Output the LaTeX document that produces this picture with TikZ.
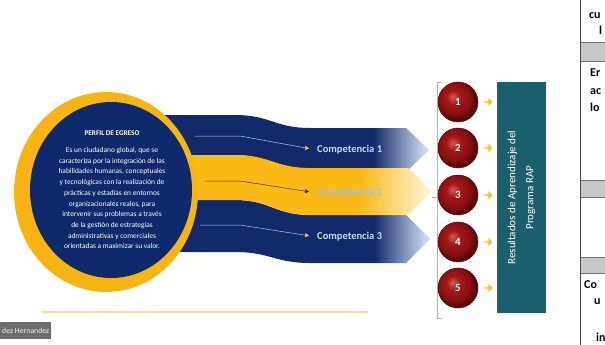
\documentclass[tikz,border=0pt]{standalone}
\usepackage{fontspec}
\setmainfont{Carlito}
\usetikzlibrary{positioning, shapes.geometric, shapes.arrows, arrows.meta}

\definecolor{navyband}{HTML}{12296B}
\definecolor{navypale}{HTML}{C9D6EE}
\definecolor{perfilnavy}{HTML}{0E2A6C}
\definecolor{ringyellow}{HTML}{F7B514}
\definecolor{bandyellow}{HTML}{FBB913}
\definecolor{yellowpale}{HTML}{FDF3D2}
\definecolor{complabel}{HTML}{C5D9F1}
\definecolor{comptwo}{HTML}{A9BFDF}
\definecolor{rapteal}{HTML}{1A5F6C}
\definecolor{ballhi}{HTML}{D9584B}
\definecolor{ballmid}{HTML}{A31717}
\definecolor{ballouter}{HTML}{851010}
\definecolor{balldark}{HTML}{5E0505}
\definecolor{tipyellow}{HTML}{F6C21B}
\definecolor{tablegray}{HTML}{C8C8C8}

\pgfdeclarehorizontalshading{navyfade}{100bp}{color(0bp)=(navyband); color(65bp)=(navyband); color(74bp)=(navypale); color(100bp)=(navypale)}
\pgfdeclarehorizontalshading{yellowfade}{100bp}{color(0bp)=(bandyellow); color(62bp)=(bandyellow); color(74bp)=(yellowpale); color(100bp)=(yellowpale)}
\pgfdeclareradialshading{redball}{\pgfpoint{-7bp}{7bp}}{color(0bp)=(ballhi); color(9bp)=(ballmid); color(20bp)=(ballouter); color(25bp)=(balldark); color(50bp)=(balldark)}

\tikzset{
  navybandfill/.style={shading=navyfade, draw=none},
  yellowbandfill/.style={shading=yellowfade, draw=none},
  ring/.style={ellipse, fill=ringyellow, minimum width=184pt, minimum height=200pt, inner sep=0},
  perfil/.style={ellipse, fill=perfilnavy, minimum width=162pt, minimum height=176pt, inner sep=0},
  perfiltext/.style={align=center, text=white, font=\fontsize{7.4}{10.7}\selectfont},
  complbl/.style={anchor=west, inner sep=0, font=\fontsize{10.5}{12}\selectfont\bfseries},
  flowlight/.style={draw=navypale!80!gray, line width=0.5pt, shorten >=8pt, -{Triangle[length=4pt,width=4pt,color=tipyellow]}},
  flowdark/.style={draw=black!70!orange, line width=0.5pt, shorten >=8pt, -{Triangle[length=4pt,width=4pt,color=black!80]}},
  ball/.style={circle, minimum size=40pt, inner sep=0, shading=redball, draw=balldark, line width=0.5pt, text=white, font=\fontsize{11}{12}\selectfont\bfseries},
  minarrow/.style={single arrow, fill=tipyellow, minimum width=8pt, minimum height=8pt, single arrow head extend=1pt, inner sep=0},
  rapbox/.style={fill=rapteal, text=white, rotate=90, align=center, minimum width=231pt, minimum height=49pt, font=\fontsize{11}{18}\selectfont},
  bracketline/.style={draw=gray!60, line width=0.7pt},
  footline/.style={draw=ringyellow!45, line width=1.2pt},
  namebox/.style={fill=gray!85!black, text=white!90!gray, inner sep=2pt, minimum height=17pt, font=\fontsize{7.8}{9}\selectfont},
  tabline/.style={draw=black!70, line width=1pt},
  tabtext/.style={anchor=base west, inner sep=0, font=\fontsize{12}{14}\selectfont\bfseries}
}

\begin{document}
\begin{tikzpicture}[x=1pt, y=-1pt]
  \useasboundingbox (0,0) rectangle (605,345);
  \clip (0,0) rectangle (605,345);

  % bands behind the circle
  \path[navybandfill] (150,115) -- (235,115) .. controls (270,115) and (275,128) .. (310,128) -- (406,128) -- (429,150) -- (406,172) -- (310,172) .. controls (275,172) and (270,155) .. (235,155) -- (150,155) -- cycle;
  \path[navybandfill] (150,200) -- (235,200) .. controls (270,200) and (275,215) .. (310,215) -- (406,215) -- (430,239) -- (406,263) -- (310,263) .. controls (275,263) and (270,252) .. (235,252) -- (150,252) -- cycle;
  \path[yellowbandfill] (150,155) -- (235,155) .. controls (270,155) and (275,168) .. (310,168) -- (408,168) -- (432,191) -- (408,215) -- (310,215) .. controls (275,215) and (270,200) .. (235,200) -- (150,200) -- cycle;

  % perfil de egreso
  \node[ring] (ring) at (106,192) {};
  \node[perfil] (perfil) at (111,190) {};
  \node[perfiltext] (perfiltxt) at (112,190) {{\fontsize{7.2}{8}\selectfont\bfseries PERFIL DE EGRESO}\\[6pt]
    Es un ciudadano global, que se\\
    caracteriza por la integración de las\\
    habilidades humanas, conceptuales\\
    y tecnológicas con la realización de\\
    prácticas y estadías en entornos\\
    organizacionales reales, para\\
    intervenir sus problemas a través\\
    de la gestión de estrategias\\
    administrativas y comerciales\\
    orientadas a maximizar su valor.};

  % competencias
  \node[complbl, text=complabel] (comp1) at (317,150) {Competencia 1};
  \node[complbl, text=comptwo] (comp2) at (317,193) {Competencia 2};
  \node[complbl, text=complabel] (comp3) at (317,237) {Competencia 3};

  \coordinate (s1) at (195,136);
  \coordinate (s2) at (205,181);
  \coordinate (s3) at (200,225);
  \draw[flowlight] (s1) -- ++(45,0) -- (comp1.west);
  \draw[flowdark] (s2) -- ++(35,0) -- (comp2.west);
  \draw[flowlight] (s3) -- ++(40,0) -- (comp3.west);

  % bracket
  \draw[bracketline] (441,82) -- (437,82) -- (437,318) -- (442,318);
  \draw[bracketline] (432,197) -- (437,197);

  % resultados
  \foreach \i/\y in {1/102,2/148,3/195,4/242,5/288}{
    \node[ball] (ball\i) at (458,\y) {\i};
    \node[minarrow, right=6pt of ball\i] (arr\i) {};
  }
  \node[rapbox] (rap) at (521.5,197.5) {Resultados de Aprendizaje del\\Programa RAP};

  \draw[footline] (42,312) -- (368,312);
  \node[namebox, anchor=north west] (presenter) at (0,322) {dez Hernandez};

  % table on the right
  \fill[tablegray] (580,42) rectangle (606,61);
  \fill[tablegray] (580,180) rectangle (606,197);
  \fill[tablegray] (580,257) rectangle (606,273);
  \foreach \y in {42,61,180,197,257,273}{
    \draw[draw=black!55, line width=0.6pt] (580,\y) -- (606,\y);
  }
  \draw[tabline] (580,0) -- (580,345);
  \node[tabtext] (t1) at (589,19) {cu};
  \node[tabtext] (t2) at (599,35) {l};
  \node[tabtext] (t3) at (590,77) {Er};
  \node[tabtext] (t4) at (590,94) {ac};
  \node[tabtext] (t5) at (590,111) {lo};
  \node[tabtext] (t6) at (584,288) {Co};
  \node[tabtext] (t7) at (594,304) {u};
  \node[tabtext] (t8) at (596,341) {in};
\end{tikzpicture}
\end{document}
